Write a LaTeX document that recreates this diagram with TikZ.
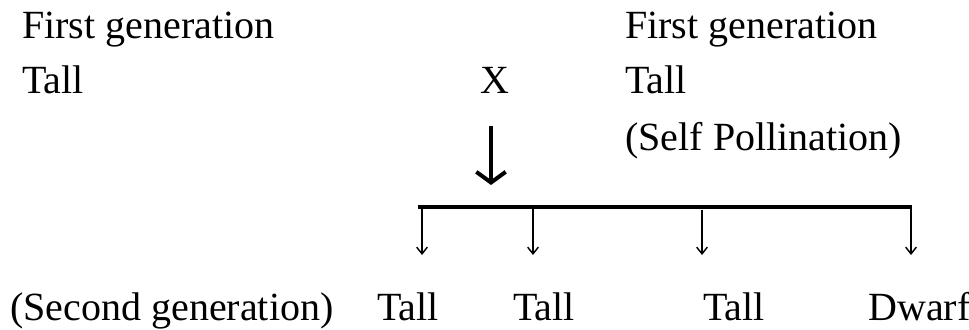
\documentclass[tikz,border=0pt]{standalone}
\usepackage{fontspec}
\setmainfont{Liberation Serif}
\usetikzlibrary{arrows.meta}

\tikzset{
	lbl/.style={anchor=base west, inner sep=0pt, font=\fontsize{30}{35}\selectfont},
}

\begin{document}
\begin{tikzpicture}[x=0.75pt, y=-0.75pt]
				\useasboundingbox (0,0) rectangle (969,329);
				\node[lbl] (gena) at (22,38) {First generation};
				\node[lbl] (talla) at (22,93) {Tall};
				\node[lbl, anchor=base] (cross) at (495,93) {X};
				\node[lbl] (genb) at (625,38) {First generation};
				\node[lbl] (tallb) at (625,93) {Tall};
				\node[lbl] (self) at (625,150) {(Self Pollination)};
				\node[lbl] (second) at (10,320) {(Second generation)};
				\node[lbl] (offa) at (377,320) {Tall};
				\node[lbl] (offb) at (513,320) {Tall};
				\node[lbl] (offc) at (703,320) {Tall};
				\node[lbl] (offd) at (868,320) {Dwarf};
				\node[shape=coordinate] (p) at (491,126) {};
				\node[shape=coordinate] (q) at (491,185) {};
				\node[shape=coordinate] (l) at (418,207) {};
				\node[shape=coordinate] (r) at (912,207) {};
				\draw[line width=3.4pt, -{Straight Barb[length=8pt, width=22pt, line width=3pt]}] (p) -- (q);
				\draw[line width=2.3pt] (l) -- (r);
				\begin{scope}[line width=1.1pt, -{Straight Barb[length=5pt, width=8pt]}]
					\foreach \n/\x/\y in {a/422/207, b/533/207, c/702/210, d/911/207} {
						\node[shape=coordinate] (s\n) at (\x,\y) {};
						\node[shape=coordinate] (t\n) at (\x,255) {};
						\draw (s\n) -- (t\n);
					}
				\end{scope}
			\end{tikzpicture}
\end{document}
